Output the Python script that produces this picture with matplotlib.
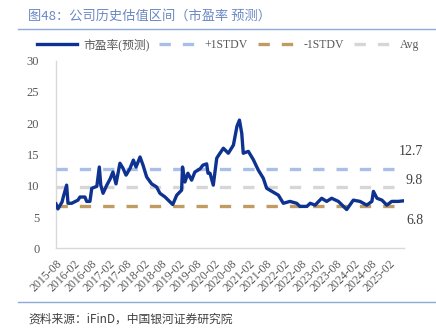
import matplotlib
matplotlib.use("Agg")
import matplotlib.pyplot as plt
import matplotlib.dates as mdates
import numpy as np
import pandas as pd

dates = ["2015-08-01", "2015-08-21", "2015-10-03", "2015-10-16", "2015-11-20", "2015-12-04",
         "2016-01-12", "2016-03-17", "2016-04-07", "2016-05-29", "2016-06-16", "2016-07-20",
         "2016-08-08", "2016-09-30", "2016-10-26", "2016-11-10", "2016-12-04", "2017-01-12",
         "2017-02-16", "2017-03-17", "2017-04-18", "2017-05-29", "2017-06-30", "2017-08-01",
         "2017-09-12", "2017-10-16", "2017-11-13", "2017-12-25", "2018-01-25", "2018-03-04",
         "2018-04-25", "2018-06-16", "2018-07-20", "2018-09-12", "2018-11-04", "2018-12-01",
         "2019-01-12", "2019-03-04", "2019-03-13", "2019-04-07", "2019-05-08", "2019-06-16",
         "2019-07-20", "2019-09-12", "2019-10-12", "2019-11-20", "2019-12-04", "2019-12-25",
         "2020-01-28", "2020-03-04", "2020-03-16", "2020-05-12", "2020-07-03", "2020-08-25",
         "2020-10-01", "2020-10-27", "2020-11-20", "2020-12-06", "2021-01-28", "2021-03-20",
         "2021-05-12", "2021-07-03", "2021-08-07", "2021-10-01", "2021-12-07", "2022-01-28",
         "2022-04-07", "2022-06-16", "2022-07-20", "2022-10-01", "2022-11-04", "2022-12-25",
         "2023-03-04", "2023-04-25", "2023-06-16", "2023-08-25", "2023-11-20", "2024-01-28",
         "2024-04-07", "2024-06-16", "2024-08-09", "2024-08-25", "2024-10-01", "2024-11-22",
         "2025-01-12", "2025-03-04", "2025-05-12", "2025-07-10"]
pe = [7.1, 6.3, 7.4, 8.2, 10.1, 7.2,
      7.2, 7.7, 8.2, 8.2, 7.5, 7.5,
      9.6, 9.9, 13.0, 10.1, 8.8, 10.1,
      11.1, 12.2, 10.3, 13.6, 12.8, 11.7,
      12.8, 14.1, 13.0, 14.6, 13.3, 11.4,
      10.3, 9.8, 8.8, 8.2, 7.4, 7.0,
      8.5, 9.3, 13.0, 10.6, 12.0, 10.9,
      12.2, 12.7, 13.3, 13.5, 12.0, 12.0,
      10.1, 14.4, 14.7, 16.0, 15.2, 16.5,
      19.5, 20.5, 18.4, 15.2, 15.5, 14.2,
      12.5, 11.2, 9.6, 9.1, 8.5, 7.2,
      7.5, 7.2, 6.7, 6.7, 7.2, 6.9,
      8.0, 7.5, 8.0, 7.5, 6.2, 7.7,
      7.5, 6.9, 7.5, 9.1, 8.0, 7.7,
      6.9, 7.5, 7.5, 7.6]
plus1 = 12.7
minus1 = 6.8
avg = 9.8

x = pd.to_datetime(dates)

fig = plt.figure(figsize=(4.36, 3.30), dpi=100)
ax = fig.add_axes([56/436, 1-248.3/330, (404-56)/436, (248.3-60.7)/330])

serif = ['Liberation Serif', 'Noto Sans CJK SC']
cjk = ['Noto Sans CJK SC', 'DejaVu Sans']

l_pe, = ax.plot(x, pe, color='#0d3290', lw=2.4, solid_joinstyle='round', label='市盈率(预测)', zorder=5)
l_p, = ax.plot([x[0], x[-1]], [plus1, plus1], color='#a9bfe8', lw=2.4, dashes=(3.4, 3.6), label='+1STDV', zorder=3)
l_m, = ax.plot([x[0], x[-1]], [minus1, minus1], color='#c09b64', lw=2.4, dashes=(3.4, 3.6), label='-1STDV', zorder=3)
l_a, = ax.plot([x[0], x[-1]], [avg, avg], color='#d6d6d6', lw=2.4, dashes=(3.4, 3.6), label='Avg', zorder=3)

ax.set_xlim(x[0], x[-1])
ax.set_ylim(0, 30)
ax.set_yticks([0, 5, 10, 15, 20, 25, 30])
ax.xaxis.set_major_locator(mdates.MonthLocator(bymonth=[2, 8]))
ax.xaxis.set_major_formatter(mdates.DateFormatter('%Y-%m'))
for s in ['top', 'right']:
    ax.spines[s].set_visible(False)
for s in ['left', 'bottom']:
    ax.spines[s].set_color('#d9d9d9')
    ax.spines[s].set_linewidth(1.0)
ax.tick_params(axis='both', length=0, colors='#595959', labelsize=9)
ax.tick_params(axis='y', pad=12)
ax.tick_params(axis='x', pad=7)
for lab in ax.get_yticklabels():
    lab.set_family(serif)
for lab in ax.get_xticklabels():
    lab.set_family(serif)
    lab.set_rotation(45)
    lab.set_ha('right')
    lab.set_rotation_mode('anchor')
    lab.set_fontsize(8.5)

# value labels on the right
for val, ypos in [(plus1, 15.5), (avg, 10.8), (minus1, 4.4)]:
    ax.text(1.055, ypos, f'{val:.1f}', transform=ax.get_yaxis_transform(), ha='right', va='center',
            fontsize=10, color='#404040', family=serif)

# legend
leg = fig.legend(handles=[l_pe, l_p, l_m, l_a], loc='center', bbox_to_anchor=(228/436, 1-45/330),
                 ncol=4, frameon=False, handlelength=3.4, columnspacing=0.8, handletextpad=0.5,
                 prop={'family': serif, 'size': 8.5})
for t in leg.get_texts():
    t.set_color('#595959')

# title and frame lines
fig.text(28/436, 1-16/330, '图48：公司历史估值区间（市盈率 预测）', fontsize=9.5, color='#6a88c4',
         family=cjk, va='center', ha='left')
fig.add_artist(plt.Line2D([18/436, 1], [1-29.3/330, 1-29.3/330], color='#8eaad8', lw=1.0))
fig.add_artist(plt.Line2D([18/436, 1], [1-302/330, 1-302/330], color='#8eaad8', lw=1.0))
fig.text(28/436, 1-319/330, '资料来源：iFinD，中国银河证券研究院', fontsize=8.5, color='#404040',
         family=cjk, va='center', ha='left')

fig.savefig('out.png', dpi=100)
